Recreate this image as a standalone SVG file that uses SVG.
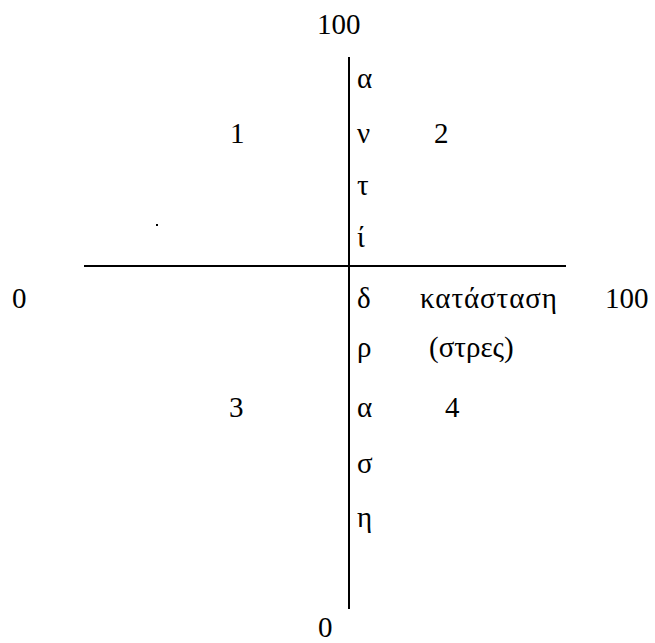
<svg xmlns="http://www.w3.org/2000/svg" width="655" height="643" viewBox="0 0 655 643">
<style>
text{font-family:'Liberation Serif','Times New Roman','DejaVu Serif',serif;font-size:29px;fill:#000}
.ax{stroke:#000;stroke-width:2}
</style>
<rect width="655" height="643" fill="#fff"/>
<g id="connectors">
<line class="ax" x1="349" y1="57" x2="349" y2="609"/>
<line class="ax" x1="84" y1="266" x2="566" y2="266"/>
</g>
<g id="labels">
<text x="317" y="34">100</text>
<text x="318" y="637">0</text>
<text x="12" y="308">0</text>
<text x="605" y="308">100</text>
<text x="420" y="308" textLength="137" lengthAdjust="spacing">κατάσταση</text>
<text x="429" y="357">(στρες)</text>
<text x="230" y="143">1</text>
<text x="434" y="143">2</text>
<text x="229" y="417">3</text>
<text x="445" y="417">4</text>
</g>
<g id="vertical">
<text x="357" y="88">α</text>
<text x="357" y="143">ν</text>
<text x="357" y="195">τ</text>
<text x="357" y="247">ί</text>
<text x="357" y="308">δ</text>
<text x="357" y="357">ρ</text>
<text x="357" y="417">α</text>
<text x="357" y="473">σ</text>
<text x="357" y="527">η</text>
</g>
<rect x="156" y="224" width="2" height="2" fill="#000"/>
</svg>
